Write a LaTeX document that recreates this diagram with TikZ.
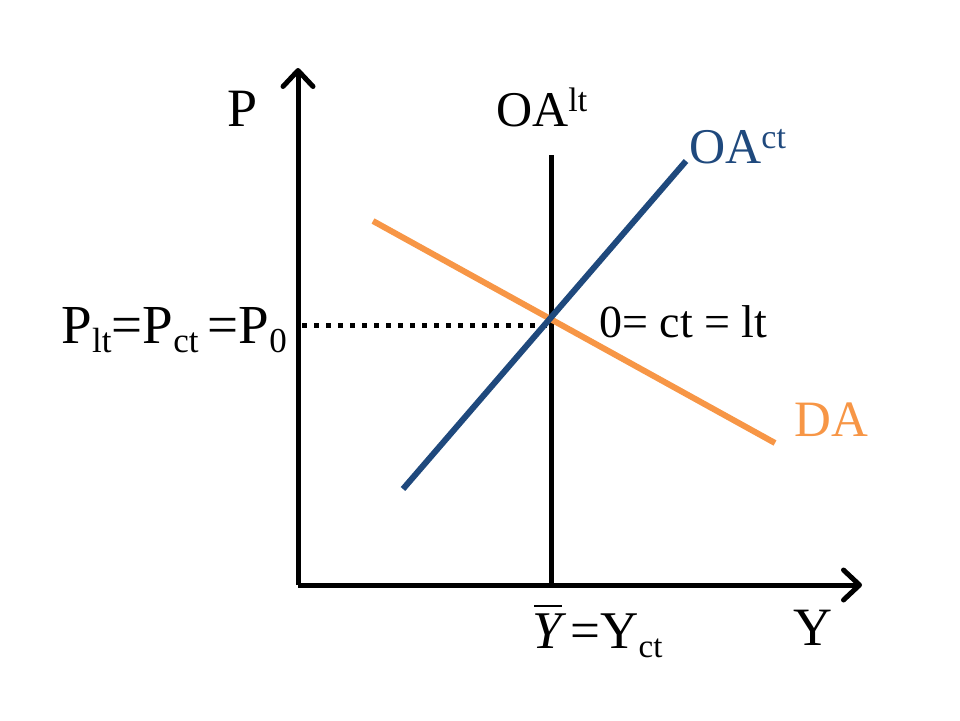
\documentclass[tikz,border=0pt]{standalone}
\usepackage{fontspec}
\setmainfont{Liberation Serif}
\usetikzlibrary{arrows.meta}
\definecolor{oablue}{HTML}{1F497D}
\definecolor{daorange}{HTML}{F79646}
\newcommand{\mysub}[1]{\raisebox{-0.18em}{\fontsize{35}{38}\selectfont #1}}
\newcommand{\mysubb}[1]{\raisebox{-0.18em}{\fontsize{33}{36}\selectfont #1}}
\newcommand{\mysup}[1]{\raisebox{0.30em}{\fontsize{34}{38}\selectfont #1}}
\newcommand{\ybar}{{\setbox0\hbox{\itshape Y}\rlap{\hspace{2pt}\raisebox{\dimexpr\ht0+6pt\relax}{\rule{\dimexpr\wd0-2pt\relax}{2.2pt}}}\box0}}
\begin{document}
\begin{tikzpicture}[x=1pt,y=-1pt,
  axis/.style={line width=5pt,-{Straight Barb[length=16pt,width=30pt,line width=5pt,round]}},
  curve/.style={line width=6pt},
  lbl/.style={inner sep=0pt,anchor=base west}]
\useasboundingbox (0,0) rectangle (960,720);
\coordinate (O) at (298,585);
\coordinate (ytip) at (298,68);
\coordinate (xtip) at (862,585);
\draw[axis] (O) -- (ytip);
\draw[axis] (O) -- (xtip);
\coordinate (lttop) at (551,155);
\coordinate (ltbot) at (551,585);
\draw[line width=5pt] (ltbot) -- (lttop);
\coordinate (ctA) at (403,489);
\coordinate (ctB) at (686,161);
\coordinate (daA) at (373,221);
\coordinate (daB) at (775,443);
\coordinate (E) at (548,325);
\coordinate (Pl) at (302,325);
\draw[line width=5pt,dash pattern=on 5pt off 7pt] (Pl) -- (E);
\draw[curve,daorange] (daA) -- (daB);
\draw[curve,oablue] (ctA) -- (ctB);
\node[lbl,font=\fontsize{54}{60}\selectfont] (P) at (227,126) {P};
\node[lbl,font=\fontsize{54}{60}\selectfont] (Y) at (793,645) {Y};
\node[lbl,font=\fontsize{50}{56}\selectfont] (oalt) at (496,126) {OA\mysup{lt}};
\node[lbl,font=\fontsize{50}{56}\selectfont,oablue] (oact) at (689,163) {OA\mysup{ct}};
\node[lbl,font=\fontsize{51}{56}\selectfont,daorange] (da) at (794,436) {DA};
\node[lbl,font=\fontsize{46}{52}\selectfont] (eq) at (599,337) {0= ct = lt};
\node[lbl,anchor=base east,font=\fontsize{55}{62}\selectfont] (pl) at (287,343) {P\mysub{lt}=P\mysub{ct}\,=P\mysub{0}};
\node[lbl,font=\fontsize{53}{60}\selectfont] (yb) at (532,648) {\ybar\,=Y\mysubb{ct}};
\end{tikzpicture}
\end{document}
